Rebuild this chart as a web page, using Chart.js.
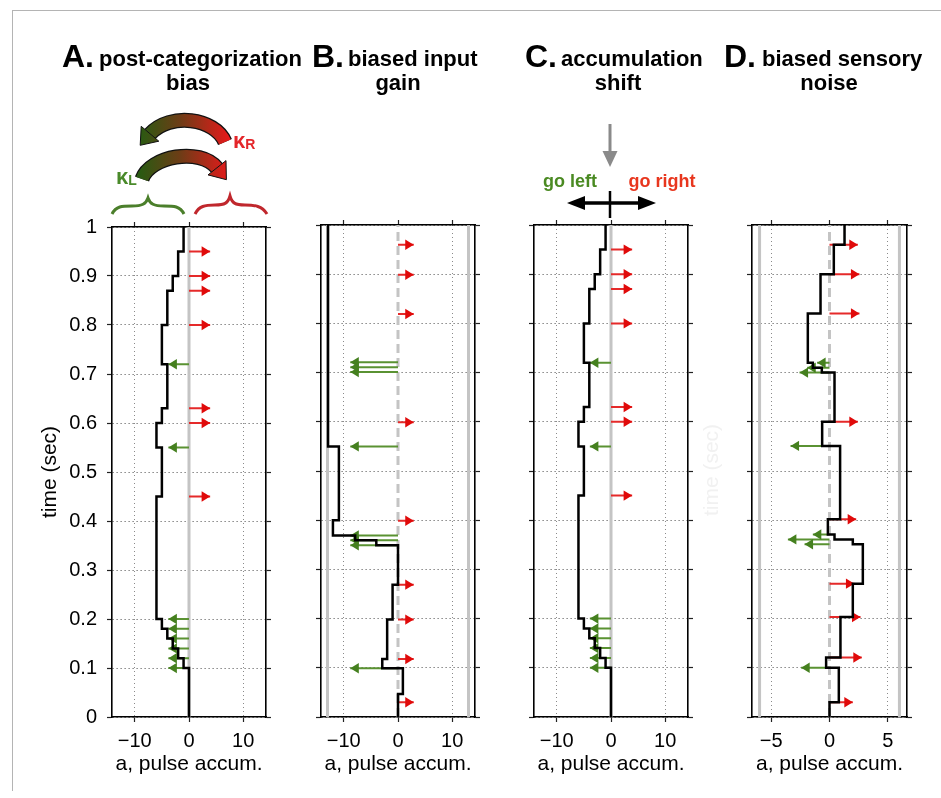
<!DOCTYPE html>
<html><head><meta charset="utf-8">
<script src="https://cdn.jsdelivr.net/npm/chart.js@4.4.1/dist/chart.umd.min.js"></script>
<style>
html,body{margin:0;padding:0;background:#fff;}
body{width:941px;height:798px;position:relative;overflow:hidden;font-family:'Liberation Sans',Arial,sans-serif;}
canvas{position:absolute;}
#frame{position:absolute;left:12px;top:10px;width:940px;height:780px;border-left:1px solid #b4b4b4;border-top:1px solid #b4b4b4;}
svg{position:absolute;left:0;top:0;pointer-events:none;}
</style></head><body>
<div id="frame"></div>
<canvas id="cA"></canvas>
<canvas id="cB"></canvas>
<canvas id="cC"></canvas>
<canvas id="cD"></canvas>
<svg width="941" height="798" viewBox="0 0 941 798" font-family="'Liberation Sans', Arial, sans-serif">
<defs>
<linearGradient id="gr" gradientUnits="userSpaceOnUse" x1="140" y1="0" x2="230" y2="0">
<stop offset="0" stop-color="#2a5a12"/>
<stop offset="0.45" stop-color="#6e3c16"/>
<stop offset="1" stop-color="#e8191b"/>
</linearGradient>
</defs>
<g font-weight="bold" fill="#000">
<text x="62" y="67" font-size="32">A.</text>
<text x="99" y="66" font-size="22">post-categorization</text>
<text x="188" y="90" font-size="22" text-anchor="middle">bias</text>
<text x="312" y="67" font-size="32">B.</text>
<text x="348" y="66" font-size="22">biased input</text>
<text x="398" y="90" font-size="22" text-anchor="middle">gain</text>
<text x="525" y="67" font-size="32">C.</text>
<text x="561" y="66" font-size="22">accumulation</text>
<text x="618" y="90" font-size="22" text-anchor="middle">shift</text>
<text x="724" y="67" font-size="32">D.</text>
<text x="762" y="66" font-size="22">biased sensory</text>
<text x="829" y="90" font-size="22" text-anchor="middle">noise</text>
</g>
<path d="M225 142 C215 118 170 112 150 134" stroke="#111" stroke-width="15" fill="none"/>
<path d="M225 142 C215 118 170 112 150 134" stroke="url(#gr)" stroke-width="12.5" fill="none"/>
<polygon points="140.2,145.3 158.8,141.2 141.2,126.3" fill="url(#gr)" stroke="#111" stroke-width="1"/>
<path d="M142 179 C150 156 200 147 217 168" stroke="#111" stroke-width="15" fill="none"/>
<path d="M142 179 C150 156 200 147 217 168" stroke="url(#gr)" stroke-width="12.5" fill="none"/>
<polygon points="226.4,179.7 226,160.6 208,174.9" fill="url(#gr)" stroke="#111" stroke-width="1"/>
<text x="233" y="148" fill="#e4262a" font-weight="bold" font-size="22">κ<tspan font-size="14" dy="1">R</tspan></text>
<text x="116" y="184" fill="#4a8a2a" font-weight="bold" font-size="22">κ<tspan font-size="14" dy="1">L</tspan></text>
<path d="M112 214 C116 206 122 206 132 206 C142 206 146 204 148 198 C150 204 154 206 164 206 C174 206 180 206 184 214" stroke="#4b7f2b" stroke-width="3" fill="none"/>
<path d="M195 214 C199 206 205 205 215 205 C225 205 228 203 230 196 C232 203 235 205 245 205 C255 205 262 206 267 214" stroke="#c0272d" stroke-width="3" fill="none"/>
<line x1="610" y1="124" x2="610" y2="153" stroke="#8a8a8a" stroke-width="3"/>
<polygon points="602.5,151 617.5,151 610,167" fill="#8a8a8a"/>
<text x="570" y="187" text-anchor="middle" fill="#4a8a22" font-weight="bold" font-size="18">go left</text>
<text x="662" y="187" text-anchor="middle" fill="#e8361e" font-weight="bold" font-size="18">go right</text>
<line x1="578" y1="203" x2="646" y2="203" stroke="#000" stroke-width="3.5"/>
<polygon points="567,203 585,196 585,210" fill="#000"/>
<polygon points="656,203 638,196 638,210" fill="#000"/>
<line x1="610" y1="191" x2="610" y2="218" stroke="#000" stroke-width="2.5"/>
<text transform="translate(718,470) rotate(-90)" text-anchor="middle" fill="#f1f1f1" font-size="21">time (sec)</text>
</svg>
<script>
// ---------- data ----------
const yTicks = [0, 0.1, 0.2, 0.3, 0.4, 0.5, 0.6, 0.7, 0.8, 0.9, 1];
const yTickLabels = ['0', '0.1', '0.2', '0.3', '0.4', '0.5', '0.6', '0.7', '0.8', '0.9', '1'];
const xTicksWide = [-10, 0, 10];
const xTicksNarrow = [-5, 0, 5];
const xTitle = 'a, pulse accum.';
const yTitle = 'time (sec)';

// Panel A: post-categorization bias
const A_stepT = [0, 0.10, 0.12, 0.14, 0.16, 0.18, 0.20, 0.45, 0.55, 0.60, 0.63, 0.72, 0.80, 0.87, 0.90, 0.95, 1.00];
const A_stepA = [0, -1, -2, -3, -4, -5, -6, -5, -6, -5, -4, -5, -4, -3, -2, -1, -1];
const A_rightT = [0.45, 0.60, 0.63, 0.80, 0.87, 0.90, 0.95];
const A_rightLen = [3.9, 3.9, 3.9, 3.9, 3.9, 3.9, 3.9];
const A_leftT = [0.10, 0.12, 0.14, 0.16, 0.18, 0.20, 0.55, 0.72];
const A_leftLen = [-3.8, -3.8, -3.8, -3.8, -3.8, -3.8, -3.8, -3.8];

// Panel B: biased input gain
const B_stepT = [0, 0.047, 0.099, 0.118, 0.198, 0.269, 0.349, 0.359, 0.369, 0.400, 0.550, 1.00];
const B_stepA = [0, 0.9, -2.9, -2.0, -1.0, 0, -4.0, -7.9, -12.0, -10.9, -12.9, -12.9];
const B_rightT = [0.030, 0.118, 0.198, 0.269, 0.399, 0.599, 0.819, 0.899, 0.960];
const B_rightLen = [2.9, 2.9, 2.9, 2.9, 2.9, 2.9, 2.9, 2.9, 2.9];
const B_leftT = [0.099, 0.349, 0.359, 0.369, 0.550, 0.701, 0.711, 0.721];
const B_leftLen = [-8.8, -8.8, -8.8, -8.8, -8.8, -8.8, -8.8, -8.8];
const B_bounds = [-13, 13];

// Panel C: accumulation shift
const C_stepT = [0, 0.10, 0.12, 0.14, 0.16, 0.18, 0.20, 0.45, 0.55, 0.60, 0.63, 0.72, 0.80, 0.87, 0.90, 0.95, 1.00];
const C_stepA = [0, -1, -2, -3, -4, -5, -6, -5, -6, -5, -4, -5, -4, -3, -2, -1, -1];
const C_rightT = [0.45, 0.60, 0.63, 0.80, 0.87, 0.90, 0.95];
const C_rightLen = [3.9, 3.9, 3.9, 3.9, 3.9, 3.9, 3.9];
const C_leftT = [0.10, 0.12, 0.14, 0.16, 0.18, 0.20, 0.55, 0.72];
const C_leftLen = [-3.9, -3.9, -3.9, -3.9, -3.9, -3.9, -3.9, -3.9];

// Panel D: biased sensory noise
const D_stepT = [0, 0.030, 0.100, 0.121, 0.203, 0.271, 0.351, 0.361, 0.371, 0.402, 0.551, 0.600, 0.700, 0.710, 0.720, 0.820, 0.900, 0.960, 1.00];
const D_stepA = [0, 0.8, -0.29, 0.94, 2.0, 2.86, 2.0, 0.43, -0.14, 0.91, -0.63, 0.43, -0.66, -1.43, -1.86, -0.77, 0.37, 1.29, 1.29];
const D_rightT = [0.030, 0.121, 0.203, 0.271, 0.402, 0.600, 0.820, 0.900, 0.960];
const D_rightLen = [2.0, 2.77, 2.66, 2.14, 2.29, 2.43, 2.57, 2.57, 2.43];
const D_leftT = [0.100, 0.351, 0.361, 0.371, 0.551, 0.700, 0.710, 0.720];
const D_leftLen = [-2.43, -2.14, -3.57, -1.43, -3.34, -2.57, -1.91, -1.06];
const D_bounds = [-6, 6];

// ---------- styling ----------
Chart.defaults.font.family = "'Liberation Sans', Arial, Helvetica, sans-serif";
Chart.defaults.color = '#000';
const RED_SHAFT = '#e52a2a', RED_HEAD = '#e00a0a';
const GREEN_SHAFT = '#5a9232', GREEN_HEAD = '#45801f';
const GRAY = '#c4c4c4';
const BOX_T = 225, BOX_B = 717;

const stepPoints = (T, A) => T.map((t, i) => ({x: A[i], y: t}));
const arrowPoints = (T, L) => T.flatMap((t, i) => [{x: 0, y: t}, {x: L[i], y: t}, {x: NaN, y: NaN}]);
const vlinePoints = (xs) => xs.flatMap(x => [{x: x, y: 0}, {x: x, y: 1}, {x: NaN, y: NaN}]);
const fmtX = v => (v < 0 ? '\u2212' + Math.abs(v) : String(v));

const arrowHeadPlugin = {
  id: 'arrowHeads',
  afterDatasetDraw(chart, args) {
    const ds = chart.data.datasets[args.index];
    if (!ds.headColor) return;
    const pts = args.meta.data;
    const ctx = chart.ctx;
    ctx.save();
    ctx.fillStyle = ds.headColor;
    for (let i = 0; i + 1 < pts.length; i += 3) {
      const p0 = pts[i], p1 = pts[i + 1];
      const dx = p1.x - p0.x, dy = p1.y - p0.y;
      const len = Math.hypot(dx, dy) || 1;
      const ux = dx / len, uy = dy / len;
      const hl = 8.5, hw = 5.2;
      ctx.beginPath();
      ctx.moveTo(p1.x, p1.y);
      ctx.lineTo(p1.x - ux * hl - uy * hw, p1.y - uy * hl + ux * hw);
      ctx.lineTo(p1.x - ux * hl + uy * hw, p1.y - uy * hl - ux * hw);
      ctx.closePath();
      ctx.fill();
    }
    ctx.restore();
  }
};

const tickStyle = {tickLength: 5, tickColor: '#222', tickWidth: 1.2};

function buildPanel(id, p) {
  const leftW = p.yLabels ? 100 : 20, rightW = 20, topH = 20, botH = 60;
  const W = leftW + (p.R - p.L) + rightW;
  const H = topH + (BOX_B - BOX_T) + botH;
  const cv = document.getElementById(id);
  cv.width = W; cv.height = H;
  cv.style.left = (p.L - leftW) + 'px';
  cv.style.top = (BOX_T - topH) + 'px';
  cv.style.width = W + 'px';
  cv.style.height = H + 'px';

  const datasets = [];
  datasets.push({data: vlinePoints([0]), borderColor: GRAY, borderWidth: 3,
    borderDash: p.dashedZero ? [9, 5] : [], order: 3});
  if (p.bounds) datasets.push({data: vlinePoints(p.bounds), borderColor: GRAY, borderWidth: 3, order: 3});
  datasets.push({data: arrowPoints(p.leftT, p.leftLen), borderColor: GREEN_SHAFT, borderWidth: 2,
    headColor: GREEN_HEAD, order: 2});
  datasets.push({data: arrowPoints(p.rightT, p.rightLen), borderColor: RED_SHAFT, borderWidth: 2,
    headColor: RED_HEAD, order: 2});
  datasets.push({data: stepPoints(p.stepT, p.stepA), borderColor: '#000', borderWidth: 2.5,
    stepped: 'after', order: 0});

  const xt = p.xTicks;
  new Chart(cv, {
    type: 'line',
    data: {datasets},
    options: {
      responsive: false, animation: false, events: [],
      layout: {padding: 0},
      elements: {point: {radius: 0, hoverRadius: 0}, line: {tension: 0, fill: false}},
      plugins: {legend: {display: false}, tooltip: {enabled: false}},
      spanGaps: false,
      scales: {
        x: {
          type: 'linear', position: 'bottom', min: p.range[0], max: p.range[1],
          afterBuildTicks: s => { s.ticks = xt.map(v => ({value: v})); },
          afterFit: s => { s.height = botH; },
          ticks: {font: {size: 20}, padding: 7, maxRotation: 0, minRotation: 0, autoSkip: false,
            callback: v => fmtX(v)},
          grid: Object.assign({color: c => (c.tick && c.tick.value === 0) ? 'rgba(0,0,0,0)' : '#8a8a8a',
            lineWidth: 1}, tickStyle),
          border: {color: '#000', width: 1.6, dash: [1, 3]},
          title: {display: true, text: xTitle, font: {size: 21}, padding: {top: 0, bottom: 0}}
        },
        x2: {
          type: 'linear', position: 'top', min: p.range[0], max: p.range[1],
          afterBuildTicks: s => { s.ticks = xt.map(v => ({value: v})); },
          afterFit: s => { s.height = topH; },
          ticks: {display: false},
          grid: Object.assign({drawOnChartArea: false}, tickStyle),
          border: {color: '#000', width: 1.6}
        },
        y: {
          type: 'linear', position: 'left', min: 0, max: 1,
          afterBuildTicks: s => { s.ticks = yTicks.map(v => ({value: v})); },
          afterFit: s => { s.width = leftW; },
          ticks: {display: !!p.yLabels, font: {size: 20}, padding: 10, autoSkip: false,
            callback: (v, i) => yTickLabels[i]},
          grid: Object.assign({color: '#4a4a4a', lineWidth: 1}, tickStyle),
          border: {color: '#000', width: 1.6, dash: [1, 3]},
          title: {display: !!p.yLabels, text: yTitle, font: {size: 21}, padding: {top: 26, bottom: 0}}
        },
        y2: {
          type: 'linear', position: 'right', min: 0, max: 1,
          afterBuildTicks: s => { s.ticks = yTicks.map(v => ({value: v})); },
          afterFit: s => { s.width = rightW; },
          ticks: {display: false},
          grid: Object.assign({drawOnChartArea: false}, tickStyle),
          border: {color: '#000', width: 1.6}
        }
      }
    },
    plugins: [arrowHeadPlugin]
  });
}

buildPanel('cA', {L: 112, R: 266, range: [-14.2, 14.2], xTicks: xTicksWide, yLabels: true,
  stepT: A_stepT, stepA: A_stepA, rightT: A_rightT, rightLen: A_rightLen, leftT: A_leftT, leftLen: A_leftLen});
buildPanel('cB', {L: 321, R: 475, range: [-14.2, 14.2], xTicks: xTicksWide, dashedZero: true, bounds: B_bounds,
  stepT: B_stepT, stepA: B_stepA, rightT: B_rightT, rightLen: B_rightLen, leftT: B_leftT, leftLen: B_leftLen});
buildPanel('cC', {L: 534, R: 688, range: [-14.2, 14.2], xTicks: xTicksWide,
  stepT: C_stepT, stepA: C_stepA, rightT: C_rightT, rightLen: C_rightLen, leftT: C_leftT, leftLen: C_leftLen});
buildPanel('cD', {L: 752, R: 907, range: [-6.65, 6.65], xTicks: xTicksNarrow, dashedZero: true, bounds: D_bounds,
  stepT: D_stepT, stepA: D_stepA, rightT: D_rightT, rightLen: D_rightLen, leftT: D_leftT, leftLen: D_leftLen});
</script>
</body></html>
